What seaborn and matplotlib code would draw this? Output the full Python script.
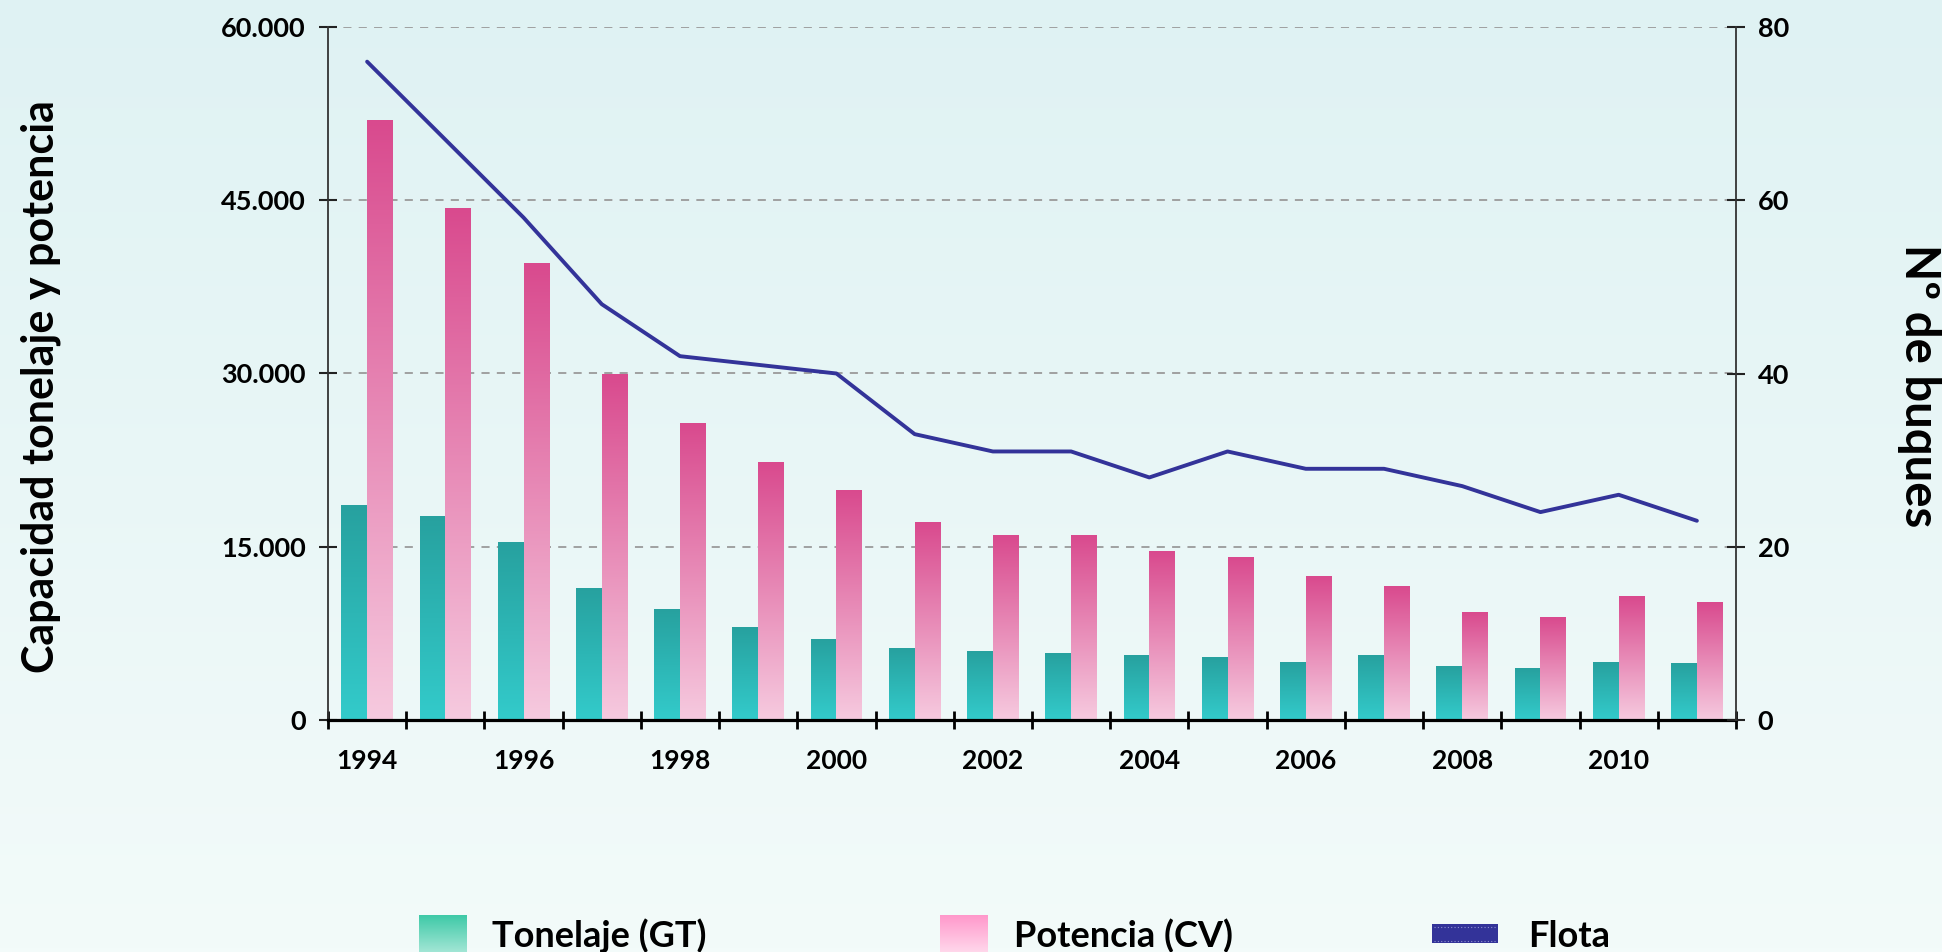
import numpy as np
import pandas as pd
import matplotlib
matplotlib.use("Agg")
import matplotlib.pyplot as plt
import seaborn as sns
from matplotlib.colors import LinearSegmentedColormap
from matplotlib.ticker import FuncFormatter
from matplotlib.patches import Rectangle

# ---- data -------------------------------------------------------------
years = list(range(1994, 2012))
tonelaje_gt = [18600, 17600, 15400, 11350, 9600, 8000, 7000, 6200, 5900,
               5800, 5600, 5450, 5000, 5600, 4650, 4500, 5000, 4850]
potencia_cv = [51900, 44300, 39500, 29900, 25650, 22300, 19900, 17100, 16000,
               16000, 14550, 14050, 12400, 11600, 9350, 8850, 10650, 10150]
flota = [76, 67, 58, 48, 42, 41, 40, 33, 31, 31, 28, 31, 29, 29, 27, 24, 26, 23]

serie_labels = ["Tonelaje (GT)", "Potencia (CV)"]
flota_label = "Flota"
ylabel_left = "Capacidad tonelaje y potencia"
ylabel_right = "Nº de buques"
left_ticks = [0, 15000, 30000, 45000, 60000]
right_ticks = [0, 20, 40, 60, 80]

# ---- style ------------------------------------------------------------
sns.set_style("ticks")
plt.rcParams["font.family"] = ["Lato", "DejaVu Sans"]

W, H = 1942, 952
fig = plt.figure(figsize=(W / 100, H / 100), dpi=100)
grad = np.linspace(0, 1, 256).reshape(-1, 1)

# soft vertical background wash
bg = fig.add_axes([0, 0, 1, 1], zorder=-10)
bg_cmap = LinearSegmentedColormap.from_list("bg", ["#f3fbfa", "#dff2f3"])
bg.imshow(grad, cmap=bg_cmap, aspect="auto", origin="lower", extent=[0, 1, 0, 1])
bg.set_axis_off()

# main axes (pixel box of the plotting area)
x0p, x1p, y0p, y1p = 328, 1736, 27, 720
ax = fig.add_axes([x0p / W, 1 - y1p / H, (x1p - x0p) / W, (y1p - y0p) / H])
ax.patch.set_alpha(0)

df = pd.DataFrame({
    "Año": years * 2,
    "Serie": [serie_labels[0]] * len(years) + [serie_labels[1]] * len(years),
    "Valor": tonelaje_gt + potencia_cv,
})
sns.barplot(data=df, x="Año", y="Valor", hue="Serie", hue_order=serie_labels,
            palette=["#2db8b6", "#e68ab5"], width=0.66, saturation=1,
            errorbar=None, legend=False, ax=ax)

# vertical gradient fill on every bar
bar_cmaps = [
    LinearSegmentedColormap.from_list("ton", ["#33cbcb", "#27a19f"]),
    LinearSegmentedColormap.from_list("pot", ["#f6cadf", "#d94a8e"]),
]
for container, cmap in zip(ax.containers, bar_cmaps):
    for bar in container:
        bx, by = bar.get_x(), bar.get_y()
        bw, bh = bar.get_width(), bar.get_height()
        ax.imshow(grad, cmap=cmap, aspect="auto", origin="lower",
                  extent=[bx, bx + bw, by, by + bh], zorder=2,
                  interpolation="bilinear")
        bar.set_facecolor("none")
        bar.set_edgecolor("none")

ax.set_xlim(-0.5, len(years) - 0.5)
ax.set_ylim(0, 60000)
ax.set_yticks(left_ticks)
ax.yaxis.set_major_formatter(FuncFormatter(lambda v, p: f"{int(v):,}".replace(",", ".")))
ax.set_xticks(range(len(years)), [str(y) if y % 2 == 0 else "" for y in years])
ax.set_xticks(np.arange(-0.5, len(years)), minor=True)
ax.set_xlabel("")
ax.set_ylabel("")

ax.tick_params(axis="x", which="major", length=0, pad=21, labelsize=19, labelcolor="black")
ax.tick_params(axis="x", which="minor", length=13, width=2, direction="inout", color="black")
ax.tick_params(axis="y", length=13, width=1.5, direction="inout", pad=9.5,
               labelsize=19.5, color="#222222", labelcolor="black")
for lab in ax.get_xticklabels() + ax.get_yticklabels():
    lab.set_fontweight("bold")

ax.yaxis.grid(True, color="#9a9a9a", linestyle=(0, (4.5, 4)), linewidth=1.3)
ax.set_axisbelow(True)
ax.spines["top"].set_visible(False)
ax.spines["right"].set_visible(False)
ax.spines["left"].set_color("#333333")
ax.spines["left"].set_linewidth(1.3)
ax.spines["bottom"].set_color("black")
ax.spines["bottom"].set_linewidth(2.3)

# fleet size on the secondary axis
ax2 = ax.twinx()
sns.lineplot(x=np.arange(len(years)), y=flota, ax=ax2, color="#333399",
             linewidth=2.8, legend=False)
ax2.set_ylim(0, 80)
ax2.set_yticks(right_ticks)
ax2.set_xlim(-0.5, len(years) - 0.5)
ax2.set_ylabel("")
ax2.tick_params(axis="y", length=13, width=1.5, direction="inout", pad=9,
                labelsize=19.5, color="#222222", labelcolor="black")
for lab in ax2.get_yticklabels():
    lab.set_fontweight("bold")
for side in ["left", "top", "bottom"]:
    ax2.spines[side].set_visible(False)
ax2.spines["right"].set_color("#333333")
ax2.spines["right"].set_linewidth(1.3)

# axis titles
fig.text(41 / W, 1 - 387 / H, ylabel_left, rotation=90, ha="center", va="center",
         fontsize=31, fontweight="bold", color="black")
fig.text(1919 / W, 1 - 386 / H, ylabel_right, rotation=270, ha="center", va="center",
         fontsize=34, fontweight="bold", color="black")

# legend row along the bottom edge
lg = fig.add_axes([0, 0, 1, 1], zorder=5)
lg.patch.set_alpha(0)
lg.imshow(grad, cmap=LinearSegmentedColormap.from_list("lt", ["#a2e6d5", "#3ec9a7"]),
          extent=[419, 467, 0, 37], origin="lower", aspect="auto")
lg.imshow(grad, cmap=LinearSegmentedColormap.from_list("lp", ["#ffd7eb", "#ff98cb"]),
          extent=[940, 988, 0, 37], origin="lower", aspect="auto")
lg.add_patch(Rectangle((1432, 9), 66, 19, facecolor="#333399", edgecolor="none"))
for yy in (11.5, 25.5):
    lg.plot([1434, 1496], [yy, yy], color="#8f8fcf", lw=0.8, ls=(0, (1, 2)))
for xx, txt in [(492, serie_labels[0]), (1014, serie_labels[1]), (1528, flota_label)]:
    lg.text(xx, 5, txt, va="baseline", ha="left", fontsize=26, fontweight="bold", color="black")
lg.set_xlim(0, W)
lg.set_ylim(0, H)
lg.set_axis_off()

fig.savefig("out.png", dpi=100)
